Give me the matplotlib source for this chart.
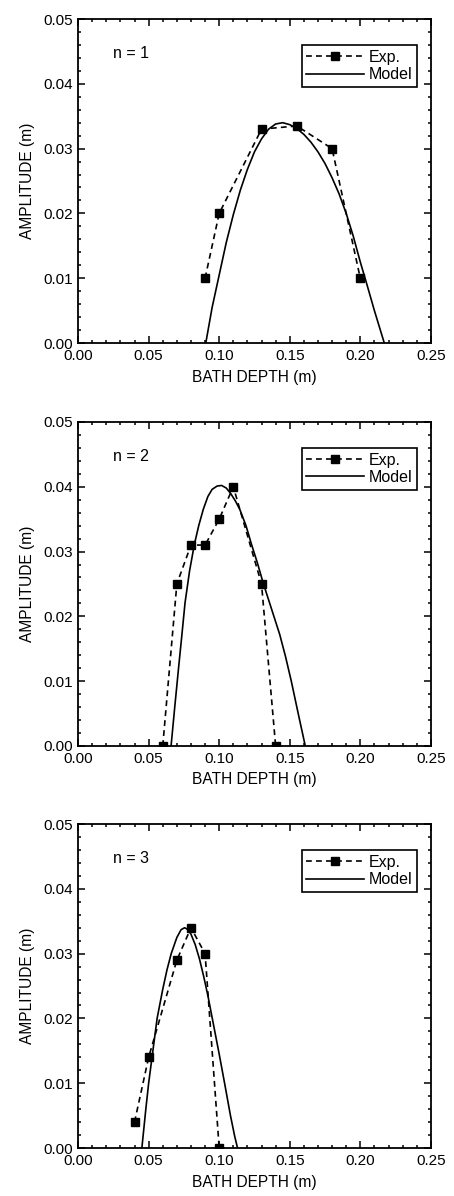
import numpy as np
import matplotlib
matplotlib.use("Agg")
import matplotlib.pyplot as plt
from matplotlib.ticker import MultipleLocator, FormatStrFormatter

plt.rcParams['font.family'] = ['Liberation Sans', 'DejaVu Sans']

exp1_x = [0.09, 0.10, 0.13, 0.155, 0.18, 0.20]
exp1_y = [0.010, 0.020, 0.033, 0.0335, 0.030, 0.010]
exp2_x = [0.06, 0.07, 0.08, 0.09, 0.10, 0.11, 0.13, 0.14]
exp2_y = [0.0, 0.025, 0.031, 0.031, 0.035, 0.040, 0.025, 0.0]
exp3_x = [0.04, 0.05, 0.07, 0.08, 0.09, 0.10]
exp3_y = [0.004, 0.014, 0.029, 0.034, 0.030, 0.0]

# model curves
mod1_x = [0.0905, 0.095, 0.100, 0.105, 0.110, 0.115, 0.120, 0.125, 0.130, 0.135, 0.140,
          0.145, 0.150, 0.155, 0.160, 0.165, 0.170, 0.175, 0.180, 0.185, 0.190, 0.195,
          0.200, 0.205, 0.210, 0.217]
mod1_y = [0.0, 0.0055, 0.0105, 0.0155, 0.0198, 0.0236, 0.0268, 0.0295, 0.0315, 0.0330,
          0.0338, 0.0340, 0.0337, 0.0331, 0.0322, 0.0310, 0.0295, 0.0277, 0.0255, 0.0230,
          0.0200, 0.0165, 0.0125, 0.0088, 0.0050, 0.0]
mod2_x = [0.0659, 0.0685, 0.0711, 0.0735, 0.0758, 0.079, 0.0824, 0.0855, 0.0887, 0.092,
          0.095, 0.0985, 0.1017, 0.105, 0.108, 0.1115, 0.1146, 0.1190, 0.1229, 0.1270,
          0.1311, 0.1370, 0.1429, 0.1470, 0.1511, 0.1560, 0.1610]
mod2_y = [0.0, 0.006, 0.0118, 0.017, 0.0221, 0.027, 0.0311, 0.034, 0.0365, 0.0385,
          0.0396, 0.0401, 0.0402, 0.0398, 0.0390, 0.0378, 0.0365, 0.0340, 0.0311, 0.0283,
          0.0252, 0.0212, 0.0172, 0.0138, 0.0100, 0.0050, 0.0]
mod3_x = [0.0452, 0.048, 0.050, 0.053, 0.056, 0.060, 0.063, 0.066, 0.070, 0.073, 0.0755,
          0.078, 0.080, 0.083, 0.086, 0.089, 0.092, 0.096, 0.100, 0.104, 0.108, 0.111, 0.113]
mod3_y = [0.0, 0.006, 0.010, 0.015, 0.020, 0.0245, 0.0275, 0.030, 0.0325, 0.0337, 0.0340,
          0.0337, 0.0330, 0.0314, 0.0292, 0.0265, 0.0235, 0.0190, 0.0145, 0.0098, 0.0050,
          0.0018, 0.0]

labels = ['n = 1', 'n = 2', 'n = 3']
panels = [(exp1_x, exp1_y, mod1_x, mod1_y),
          (exp2_x, exp2_y, mod2_x, mod2_y),
          (exp3_x, exp3_y, mod3_x, mod3_y)]

fig = plt.figure(figsize=(4.54, 11.96), dpi=100)
bottoms = [0.7132, 0.3763, 0.0401]
h = 0.2709

for i, (ex, ey, mx, my) in enumerate(panels):
    ax = fig.add_axes([0.172, bottoms[i], 0.777, h])
    ax.plot(ex, ey, 'k--', marker='s', markersize=6, lw=1.2, dashes=(3.5, 2.5), label='Exp.')
    ax.plot(mx, my, 'k-', lw=1.2, label='Model')
    ax.set_xlim(0, 0.25)
    ax.set_ylim(0, 0.05)
    ax.xaxis.set_major_locator(MultipleLocator(0.05))
    ax.xaxis.set_minor_locator(MultipleLocator(0.01))
    ax.yaxis.set_major_locator(MultipleLocator(0.01))
    ax.yaxis.set_minor_locator(MultipleLocator(0.002))
    ax.xaxis.set_major_formatter(FormatStrFormatter('%.2f'))
    ax.yaxis.set_major_formatter(FormatStrFormatter('%.2f'))
    ax.tick_params(which='both', direction='in', top=True, right=True, width=1.1)
    ax.tick_params(which='major', length=5, labelsize=11)
    ax.tick_params(axis='x', which='major', pad=4)
    ax.tick_params(axis='y', which='major', pad=4)
    ax.tick_params(which='minor', length=2.5)
    for s in ax.spines.values():
        s.set_linewidth(1.3)
    ax.set_xlabel('BATH DEPTH (m)', fontsize=11.2, labelpad=5)
    ax.set_ylabel('AMPLITUDE (m)', fontsize=11.2, labelpad=6)
    ax.text(0.025, 0.0447, labels[i], fontsize=11.5, va='center')
    leg = ax.legend(loc='upper right', bbox_to_anchor=(0.961, 0.92), numpoints=1,
                    handlelength=3.6, fontsize=11.5, fancybox=False, edgecolor='black',
                    framealpha=1, borderpad=0.3, labelspacing=0.15, handletextpad=0.3,
                    borderaxespad=0)
    leg.get_frame().set_linewidth(1.2)

fig.savefig('out.png', dpi=100)
